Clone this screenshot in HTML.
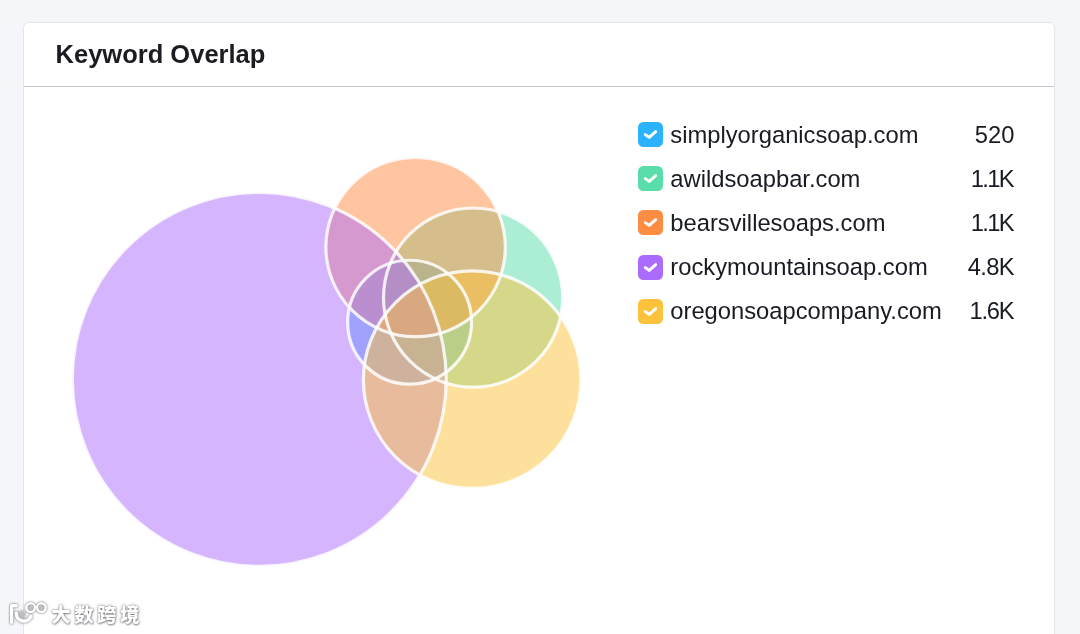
<!DOCTYPE html>
<html lang="en">
<head>
<meta charset="utf-8">
<title>Keyword Overlap</title>
<style>
  html, body { margin: 0; padding: 0; }
  body {
    width: 1080px; height: 634px; overflow: hidden; position: relative;
    background: #f5f6fa;
    font-family: "Liberation Sans", "Noto Sans CJK SC", sans-serif;
    color: #191b23;
  }
  .card {
    position: absolute; left: 23px; top: 22px; width: 1031.5px; height: 640px;
    box-sizing: border-box;
    background: #fff;
    border: 1px solid #e4e5ea;
    border-radius: 6px 6px 0 0;
  }
  .card-header {
    opacity: 0.999;
    position: absolute; left: 0; top: 0; right: 0; height: 62.7px;
    border-bottom: 1.3px solid #c8c9ce;
  }
  .title {
    position: absolute; left: 31.6px; top: 16.4px;
    margin: 0; font-weight: 700; font-size: 25.5px; line-height: 30px;
    white-space: nowrap; color: #1b1c21;
  }
  .venn { position: absolute; left: 0; top: 0; width: 1080px; height: 634px; }
  .legend { opacity: 0.999; position: absolute; left: 638px; top: 122.3px; width: 377px; margin: 0; padding: 0; list-style: none; }
  .legend li { position: relative; height: 25px; margin-bottom: 19.1px; white-space: nowrap; }
  .box {
    position: absolute; left: 0; top: 0; width: 25px; height: 25px; border-radius: 5.5px;
  }
  .box svg { position: absolute; left: 0; top: 0; width: 25px; height: 25px; }
  .name { position: absolute; left: 32.3px; top: -1.2px; font-size: 23.75px; line-height: 28px; color: #191b23; }
  .val { position: absolute; right: 0.5px; top: -1.2px; font-size: 23.75px; line-height: 28px; color: #191b23; text-align: right; }
  .t3 { letter-spacing: 0; }
  .t4 { letter-spacing: -0.7px; margin-right: 0.7px; }
  .t1 { letter-spacing: -1.7px; }
  .t2 { letter-spacing: -1.3px; }
  .wm { opacity: 0.999; position: absolute; left: 0; top: 590px; width: 180px; height: 44px; white-space: nowrap; }
  .wm svg { position: absolute; left: 0; top: 0; filter: drop-shadow(0 0 1.2px rgba(60,60,70,.55)) drop-shadow(0.5px 0.8px 1px rgba(60,60,70,.3)); }
  .wm span {
    position: absolute; left: 51.3px; top: 10.5px;
    font-family: "Liberation Sans", "Noto Sans CJK SC", sans-serif;
    font-weight: 900; font-size: 19.5px; line-height: 28px; letter-spacing: 3.4px;
    color: #fff; text-shadow: 0 0 1px rgba(60,60,70,.45), 0 0 2.5px rgba(60,60,70,.6), 0.5px 1px 2px rgba(60,60,70,.45);
  }
</style>
</head>
<body>
  <div class="card">
    <div class="card-header"><h2 class="title">Keyword Overlap</h2></div>
  </div>

  <svg class="venn" viewBox="0 0 1080 634">
    <g fill-opacity="0.5" stroke="none">
      <circle cx="409.6" cy="322.2" r="61.95" fill="#2bb3ff"/>
      <circle cx="473.1" cy="297.6" r="89.6" fill="#59ddaa"/>
      <circle cx="415.6" cy="247.0" r="89.7" fill="#ff8c43"/>
      <circle cx="259.25" cy="379.35" r="186.95" fill="#ab6cfe"/>
      <circle cx="472.17" cy="379.68" r="108.78" fill="#fdc23c"/>
    </g>
    <g fill="none" stroke="#fff" stroke-width="3.2" stroke-opacity="0.84">
      <circle cx="409.6" cy="322.2" r="61.95"/>
      <circle cx="473.1" cy="297.6" r="89.6"/>
      <circle cx="415.6" cy="247.0" r="89.7"/>
      <circle cx="259.25" cy="379.35" r="186.95"/>
      <circle cx="472.17" cy="379.68" r="108.78"/>
    </g>
  </svg>

  <ul class="legend">
    <li><span class="box" style="background:#2bb3ff"><svg viewBox="0 0 25 25"><path d="M7.3 12.6L11.2 15.4 17.7 9.7" fill="none" stroke="#fff" stroke-width="3" stroke-linecap="round" stroke-linejoin="round"/></svg></span><span class="name">simplyorganicsoap.com</span><span class="val t3">520</span></li>
    <li><span class="box" style="background:#59ddaa"><svg viewBox="0 0 25 25"><path d="M7.3 12.6L11.2 15.4 17.7 9.7" fill="none" stroke="#fff" stroke-width="3" stroke-linecap="round" stroke-linejoin="round"/></svg></span><span class="name">awildsoapbar.com</span><span class="val"><span class="t1">1.1</span>K</span></li>
    <li><span class="box" style="background:#ff8c43"><svg viewBox="0 0 25 25"><path d="M7.3 12.6L11.2 15.4 17.7 9.7" fill="none" stroke="#fff" stroke-width="3" stroke-linecap="round" stroke-linejoin="round"/></svg></span><span class="name">bearsvillesoaps.com</span><span class="val"><span class="t1">1.1</span>K</span></li>
    <li><span class="box" style="background:#ab6cfe"><svg viewBox="0 0 25 25"><path d="M7.3 12.6L11.2 15.4 17.7 9.7" fill="none" stroke="#fff" stroke-width="3" stroke-linecap="round" stroke-linejoin="round"/></svg></span><span class="name">rockymountainsoap.com</span><span class="val t4">4.8K</span></li>
    <li><span class="box" style="background:#fdc23c"><svg viewBox="0 0 25 25"><path d="M7.3 12.6L11.2 15.4 17.7 9.7" fill="none" stroke="#fff" stroke-width="3" stroke-linecap="round" stroke-linejoin="round"/></svg></span><span class="name">oregonsoapcompany.com</span><span class="val"><span class="t2">1.6</span>K</span></li>
  </ul>

  <div class="wm">
    <svg width="60" height="44" viewBox="0 0 60 44">
      <g fill="none" stroke="#fff" stroke-linecap="round" stroke-linejoin="round">
        <path d="M11.6 32.3V15.6h4.6" stroke-width="3.2"/>
        <path d="M16.3 23.2a7.6 7.6 0 0 0 14.6 3.2" stroke-width="3.6"/>
        <circle cx="30.6" cy="17.6" r="4.3" stroke-width="2.4"/>
        <circle cx="41.4" cy="17.6" r="4.3" stroke-width="2.4"/>
      </g>
      <g fill="#cdcdd0" fill-opacity="0.7">
        <circle cx="30.6" cy="17.6" r="2.6"/>
        <circle cx="41.4" cy="17.6" r="2.6"/>
        <circle cx="21.8" cy="24.6" r="4.2" fill-opacity="0.45"/>
      </g>
    </svg>
    <span>大数跨境</span>
  </div>
</body>
</html>
